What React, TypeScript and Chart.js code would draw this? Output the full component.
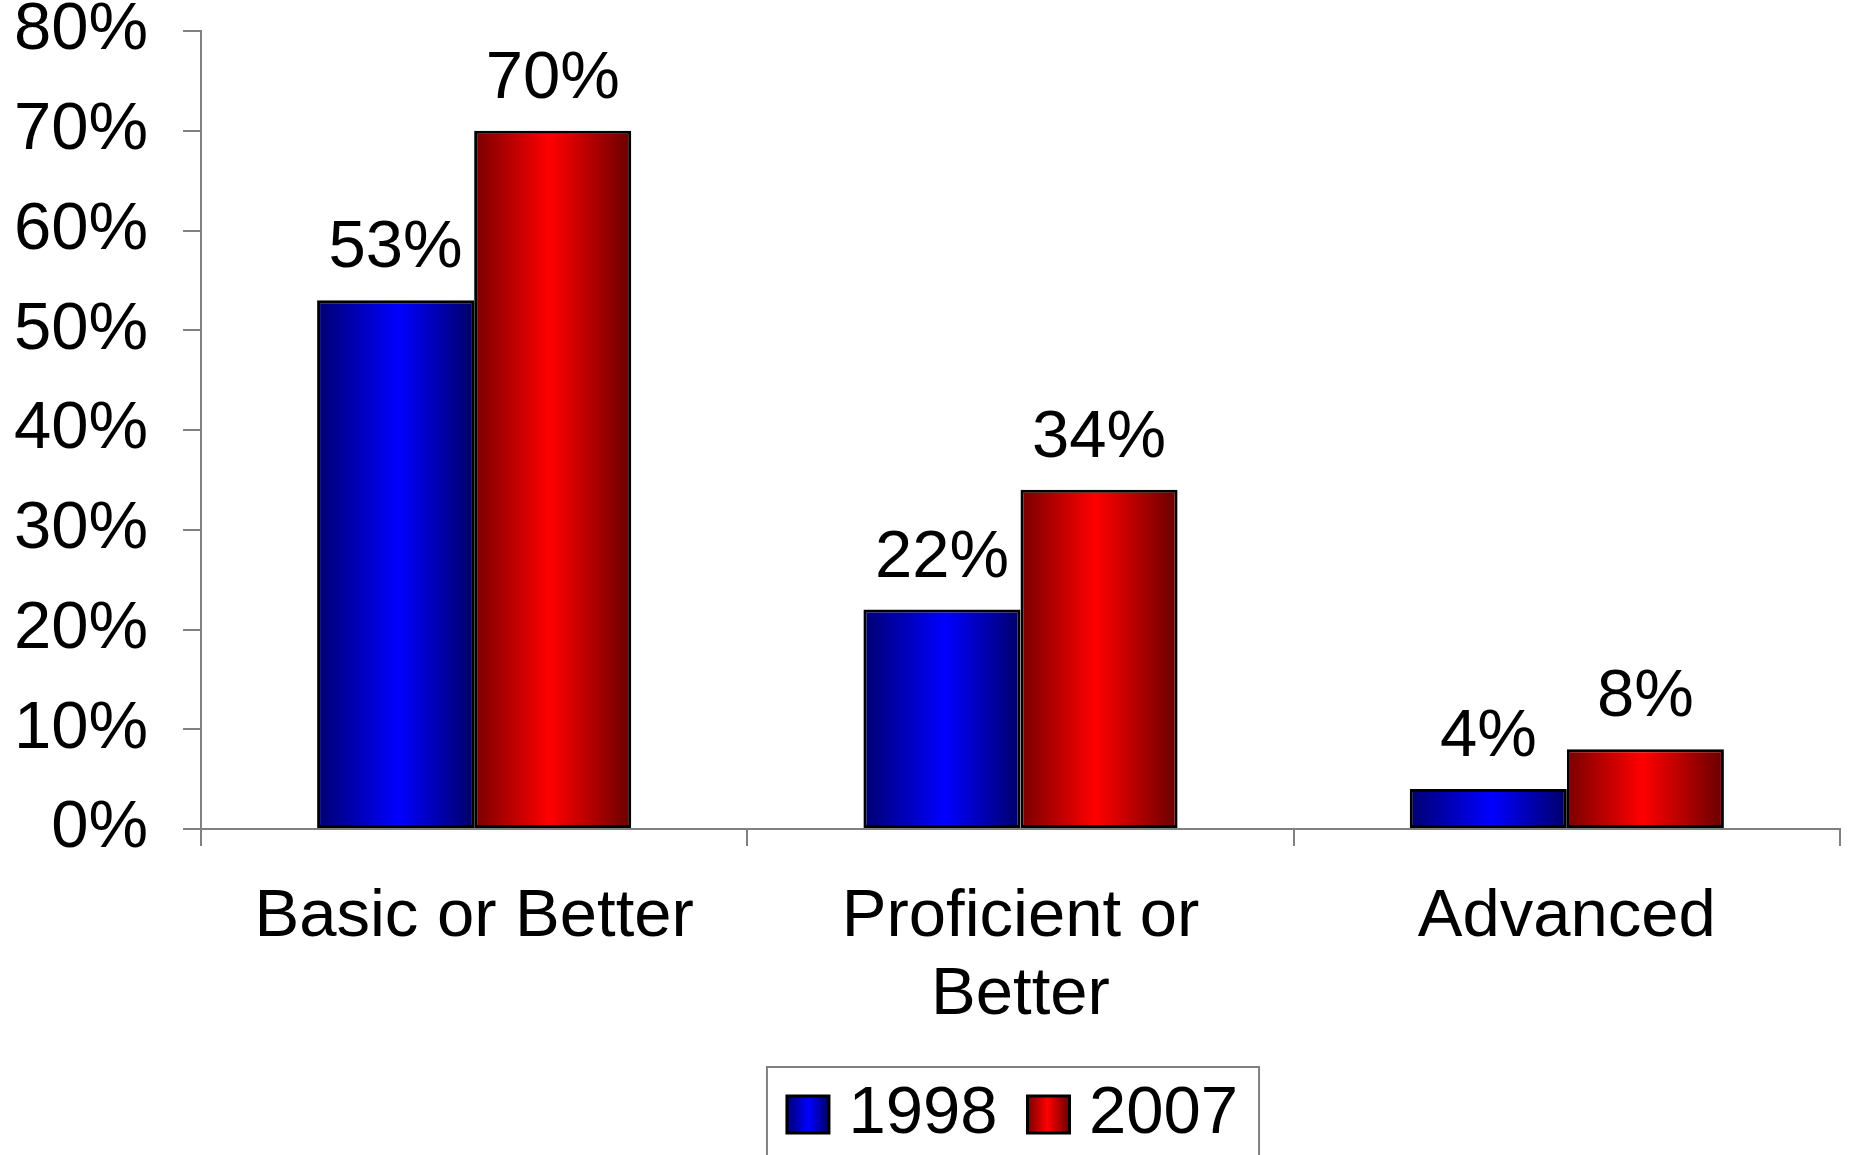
import React, { useEffect, useRef } from 'react';
import { Chart, registerables } from 'chart.js';

Chart.register(...registerables);

const categories: string[][] = [['Basic or Better'], ['Proficient or', 'Better'], ['Advanced']];
const seriesNames = ['1998', '2007'];
const values1998 = [53, 22, 4];
const values2007 = [70, 34, 8];
const yMin = 0;
const yMax = 80;
const yStep = 10;

const FONT = "'Liberation Sans', Arial, Helvetica, sans-serif";
const FS = 67;
const AXIS_GRAY = '#808080';
const LEGEND_BOX_W = 42;
const LEGEND_BOX_H = 37;
const LEGEND_SHIFT = -8;

const gradStops: Record<string, [number, string][]> = {
  '1998': [[0, '#000070'], [0.52, '#0000ff'], [1, '#000068']],
  '2007': [[0, '#780000'], [0.48, '#ff0000'], [1, '#680000']],
};

function makeGrad(ctx: CanvasRenderingContext2D, x0: number, x1: number, name: string) {
  const g = ctx.createLinearGradient(x0, 0, x1, 0);
  for (const [o, c] of gradStops[name]) g.addColorStop(o, c);
  return g;
}

const gradientPlugin = {
  id: 'barGradients',
  afterLayout(chart: any) {
    const l = chart.legend;
    if (l) {
      l.left += LEGEND_SHIFT;
      l.right += LEGEND_SHIFT;
    }
  },
  beforeDatasetsDraw(chart: any) {
    const ctx = chart.ctx;
    chart.data.datasets.forEach((ds: any, di: number) => {
      const meta = chart.getDatasetMeta(di);
      meta.data.forEach((el: any) => {
        const g = makeGrad(ctx, el.x - el.width / 2, el.x + el.width / 2, ds.label);
        el.options = { ...el.options, backgroundColor: g };
      });
    });
  },
  afterDatasetsDraw(chart: any) {
    const ctx = chart.ctx;
    ctx.save();
    ctx.fillStyle = '#000';
    ctx.font = `${FS}px ${FONT}`;
    ctx.textAlign = 'center';
    ctx.textBaseline = 'alphabetic';
    chart.data.datasets.forEach((ds: any, di: number) => {
      const meta = chart.getDatasetMeta(di);
      meta.data.forEach((el: any, i: number) => {
        ctx.fillText(`${ds.data[i]}%`, el.x, el.y - 33);
      });
    });
    ctx.restore();
  },
  afterDraw(chart: any) {
    const legend = chart.legend;
    if (!legend || !legend.legendHitBoxes || !legend.legendHitBoxes.length) return;
    const ctx = chart.ctx;
    const hbs = legend.legendHitBoxes;
    ctx.save();
    ctx.fillStyle = '#fff';
    hbs.forEach((hb: any) => {
      ctx.fillRect(hb.left - 2, hb.top, LEGEND_BOX_W + 4, hb.height);
    });
    hbs.forEach((hb: any, i: number) => {
      const x = hb.left;
      const y = hb.top + Math.max((FS - LEGEND_BOX_H) / 2, 0);
      ctx.fillStyle = makeGrad(ctx, x, x + LEGEND_BOX_W, seriesNames[i]);
      ctx.fillRect(x, y, LEGEND_BOX_W, LEGEND_BOX_H);
      ctx.lineWidth = 3;
      ctx.strokeStyle = '#000';
      ctx.strokeRect(x, y, LEGEND_BOX_W, LEGEND_BOX_H);
    });
    const first = hbs[0];
    const last = hbs[hbs.length - 1];
    const left = first.left - 20;
    const right = last.left + last.width + 21;
    const top = first.top - 14;
    ctx.lineWidth = 2;
    ctx.strokeStyle = AXIS_GRAY;
    ctx.strokeRect(left, top, right - left, chart.height + 20 - top);
    ctx.restore();
  },
};

export default function App() {
  const ref = useRef<HTMLCanvasElement | null>(null);
  useEffect(() => {
    if (!ref.current) return;
    Chart.defaults.font.family = FONT;
    const chart = new Chart(ref.current, {
      type: 'bar',
      data: {
        labels: categories,
        datasets: [
          {
            label: seriesNames[0],
            data: values1998,
            backgroundColor: '#0000ff',
            borderColor: '#000',
            borderWidth: 3,
            borderSkipped: false,
            categoryPercentage: 0.575,
            barPercentage: 1,
          },
          {
            label: seriesNames[1],
            data: values2007,
            backgroundColor: '#ff0000',
            borderColor: '#000',
            borderWidth: 3,
            borderSkipped: false,
            categoryPercentage: 0.575,
            barPercentage: 1,
          },
        ],
      },
      options: {
        animation: false,
        responsive: true,
        maintainAspectRatio: false,
        devicePixelRatio: 1,
        layout: { autoPadding: false, padding: { top: 31, right: 10, bottom: 32, left: 0 } },
        plugins: {
          tooltip: { enabled: false },
          title: { display: false },
          legend: {
            position: 'bottom',
            fullSize: false,
            labels: {
              color: '#000',
              font: { size: FS, family: FONT },
              boxWidth: 28,
              boxHeight: LEGEND_BOX_H,
              padding: 30,
            },
          },
        },
        scales: {
          x: {
            offset: true,
            grid: {
              offset: true,
              drawOnChartArea: false,
              drawTicks: true,
              tickLength: 17,
              color: AXIS_GRAY,
              lineWidth: 2,
            },
            border: { display: true, color: AXIS_GRAY, width: 2 },
            ticks: {
              color: '#000',
              font: { size: FS, family: FONT, lineHeight: 1.17 },
              padding: 32,
              maxRotation: 0,
              autoSkip: false,
            },
            afterFit(scale: any) {
              scale.height = 222;
              scale.paddingLeft = 0;
              scale.paddingRight = 0;
            },
          },
          y: {
            min: yMin,
            max: yMax,
            grid: {
              drawOnChartArea: false,
              drawTicks: true,
              tickLength: 18,
              color: AXIS_GRAY,
              lineWidth: 2,
            },
            border: { display: true, color: AXIS_GRAY, width: 2 },
            ticks: {
              stepSize: yStep,
              color: '#000',
              font: { size: FS, family: FONT },
              padding: 35,
              callback: (v: any) => `${v}%`,
            },
            afterFit(scale: any) {
              scale.width = 201;
              scale.paddingTop = 0;
              scale.paddingBottom = 0;
            },
          },
        },
      },
      plugins: [gradientPlugin],
    });
    return () => chart.destroy();
  }, []);
  return (
    <div style={{ position: 'fixed', left: 0, top: 0, width: 1850, height: 1190, background: '#fff' }}>
      <canvas ref={ref} />
    </div>
  );
}
